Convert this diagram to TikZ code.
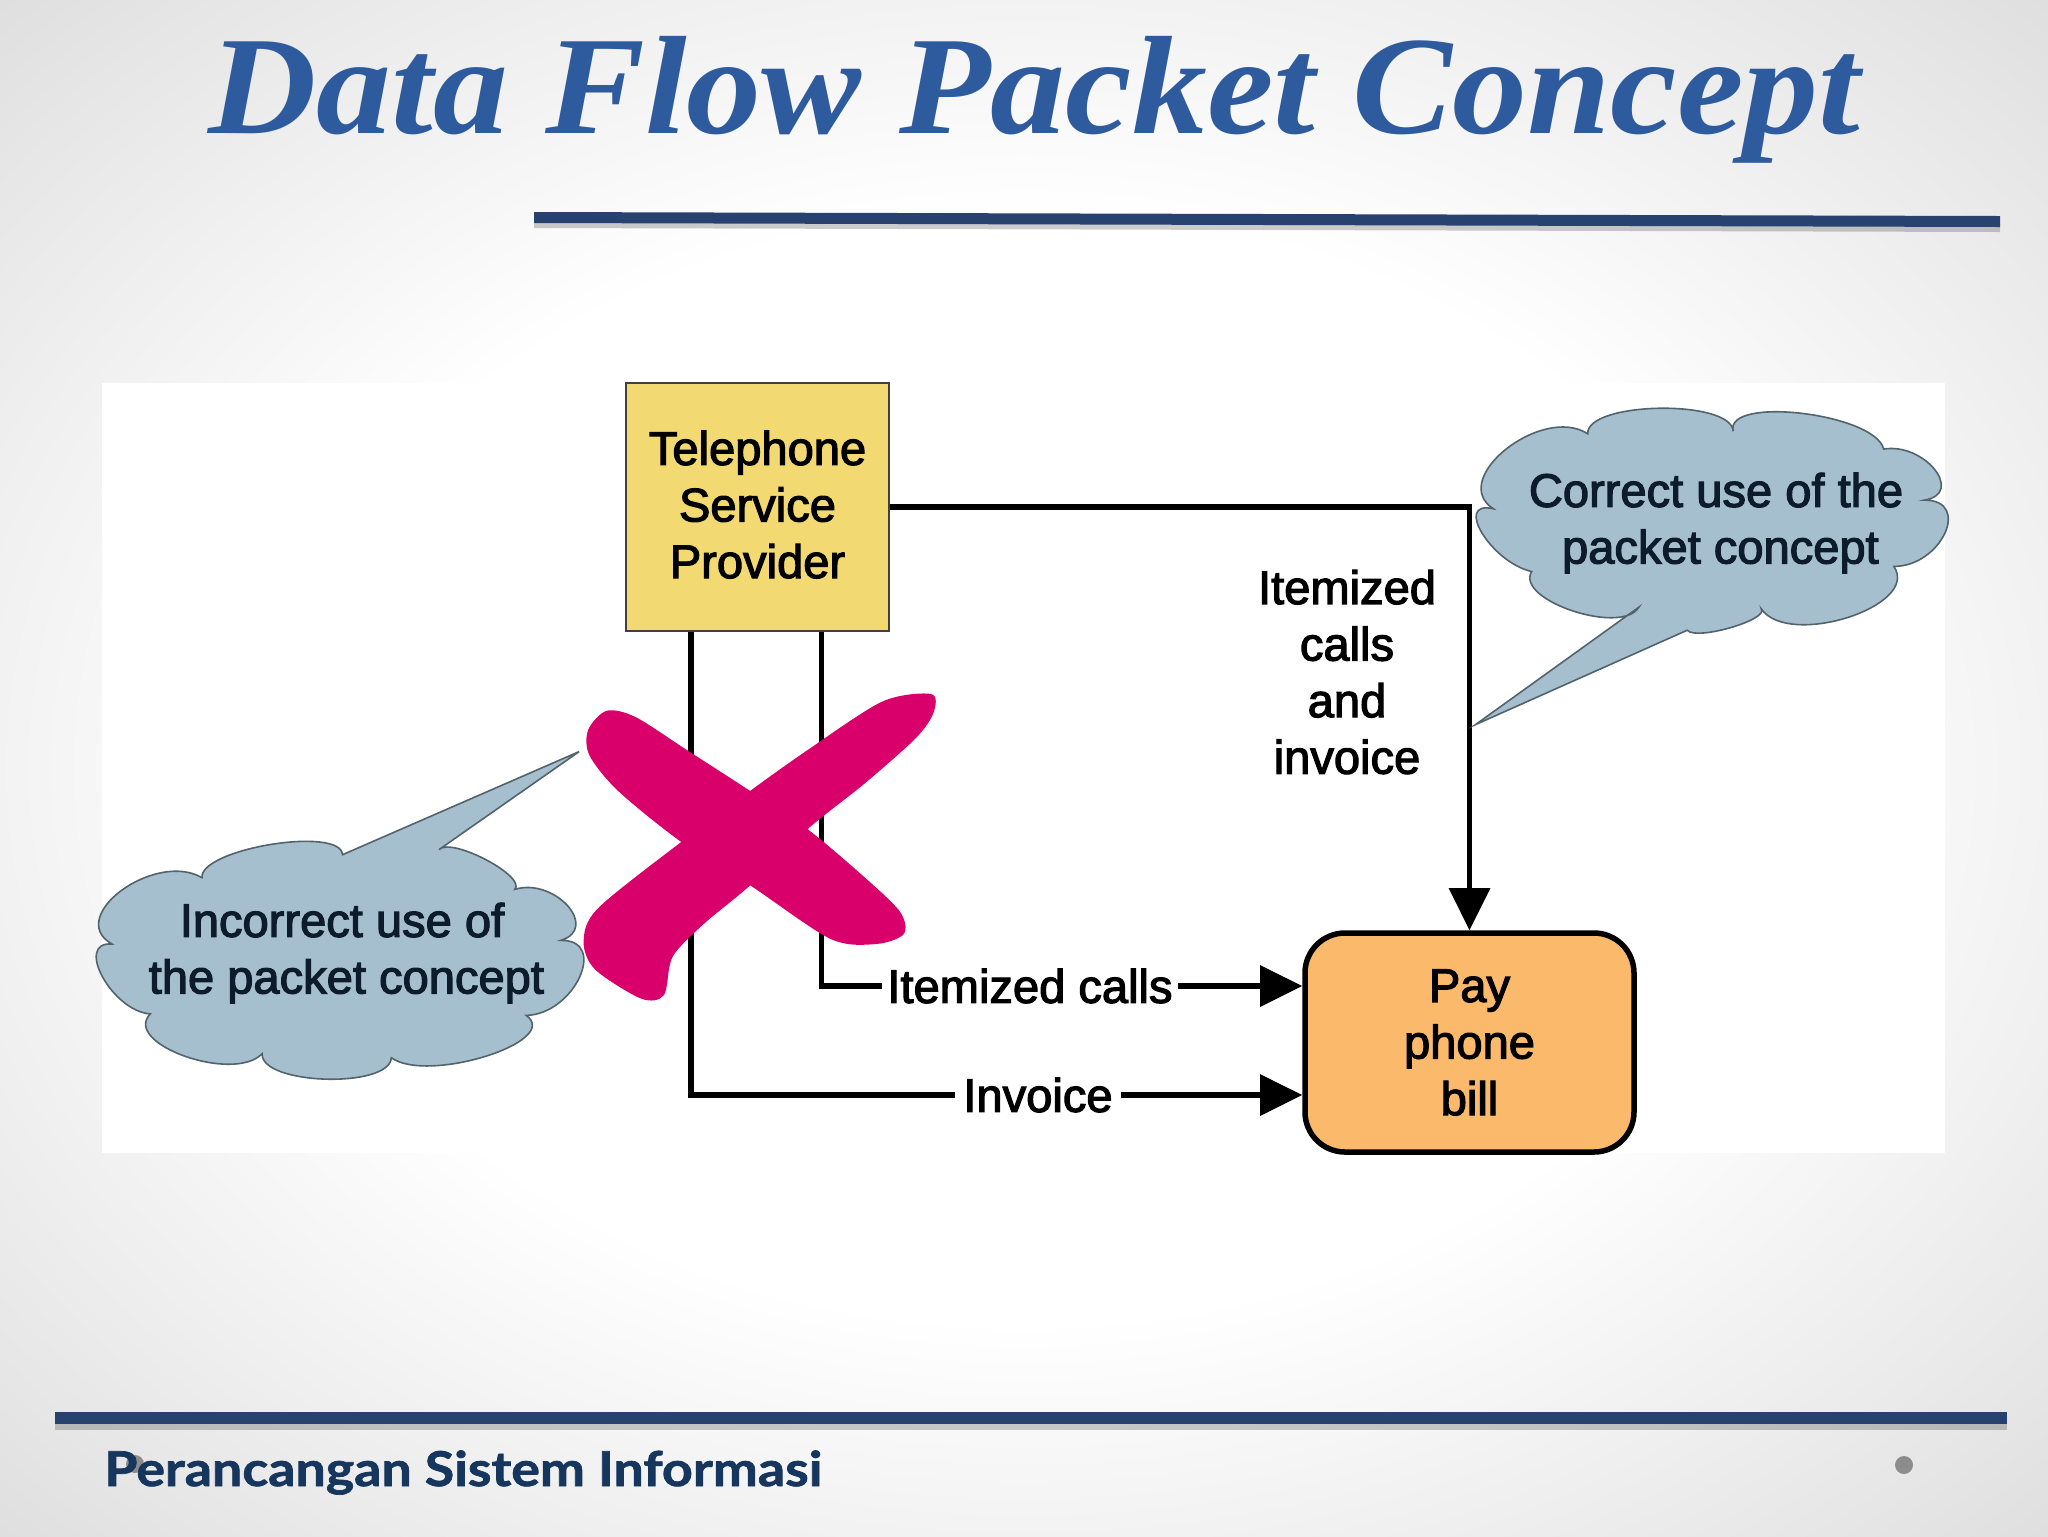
\documentclass[tikz,border=0pt]{standalone}
\usepackage{fontspec}
\usetikzlibrary{arrows.meta,calc}
\setmainfont{Liberation Sans}
\newfontfamily\diagf{Liberation Sans}[FakeBold=2.5]
\newfontfamily\titlef{Liberation Serif}[FakeStretch=1.07]
\newfontfamily\footf{Lato}[FakeStretch=1.12,FakeBold=1.5]
\definecolor{titleblue}{HTML}{2E5A9E}
\definecolor{rulenavy}{HTML}{27426F}
\definecolor{footnavy}{HTML}{17365D}
\definecolor{provider}{HTML}{F2D972}
\definecolor{payfill}{HTML}{FBB96C}
\definecolor{cloudfill}{HTML}{A6BFCF}
\definecolor{cloudedge}{HTML}{52636B}
\definecolor{cloudtext}{HTML}{0C1C2C}
\definecolor{cross}{HTML}{D9006C}
\def\ux{0.02cm}
\pgfdeclareradialshading{slidebg}{\pgfpoint{0bp}{0bp}}{rgb(0bp)=(1,1,1); rgb(18bp)=(1,1,1); rgb(32bp)=(0.90,0.90,0.90); rgb(50bp)=(0.76,0.76,0.76)}
\newcommand{\cloudbump}[3]{.. controls ($0.3333*(#1)+1.3333*(#2)-0.6667*(#3)$) and ($0.3333*(#3)+1.3333*(#2)-0.6667*(#1)$) .. (#3)}
\tikzset{
  difftext/.style={font=\diagf\fontsize{26.8pt}{32.2pt}\selectfont,align=center,text=black,inner sep=0pt},
  provider box/.style={draw=black!75,line width=2*\ux,fill=provider,minimum width=263*\ux,minimum height=248*\ux,difftext},
  pay box/.style={draw=black,line width=5.5*\ux,fill=payfill,rounded corners=40*\ux,minimum width=329*\ux,minimum height=219*\ux,difftext},
  wire/.style={draw=black,line width=5.5*\ux},
  arrowed/.style={wire,-{Triangle[length=24pt,width=23pt]}},
  flow label/.style={difftext,fill=white,outer sep=0pt},
  cloud/.style={draw=cloudedge,line width=1.6*\ux,fill=cloudfill},
  cloud label/.style={difftext,text=cloudtext},
  bar/.style={fill=rulenavy},
  barshadow/.style={fill=black,opacity=0.2}
}
\begin{document}
\begin{tikzpicture}[x=\ux,y=-\ux]
\useasboundingbox (0,0) rectangle (2048,1536);
\shade[shading=slidebg] (0,0) rectangle (2048,1536);
\fill[white] (102,383) rectangle (1945,1153);
% title + rules
\node[anchor=base west,inner sep=0pt,text=titleblue,font=\titlef\bfseries\itshape\fontsize{79.7pt}{90pt}\selectfont] (title) at (208,133) {Data Flow Packet Concept};
\path[barshadow] (534,219) -- (2000,223) -- (2000,232) -- (534,228) -- cycle;
\path[bar] (534,212) -- (2000,216) -- (2000,227) -- (534,223) -- cycle;
\path[barshadow] (55,1420) rectangle (2007,1430);
\path[bar] (55,1412) rectangle (2007,1424);
% footer
\fill[black!45] (135,1464) circle (9);
\fill[black!45] (1904,1465) circle (9);
\node[anchor=base west,inner sep=0pt,text=footnavy,font=\footf\bfseries\fontsize{27.3pt}{32pt}\selectfont] (foot) at (104,1486) {Perancangan Sistem Informasi};
% nodes
\node[provider box] (tsp) at (757.5,507) {Telephone\\Service\\Provider\rule[-3pt]{0pt}{0pt}};
\node[pay box] (pay) at (1469.5,1042.5) {Pay\\phone\\bill};
\node[flow label,inner xsep=5*\ux] (calls) at (1030,986) {Itemized calls};
\node[flow label,inner xsep=8*\ux] (inv) at (1038,1095) {Invoice};
\node[flow label] (both) at (1347,672) {Itemized\\calls\\and\\invoice};
% connectors
\draw[wire] ([xshift=-66.5*\ux]tsp.south) |- (inv.west);
\draw[arrowed] (inv.east) -- (pay.west |- inv.east);
\draw[wire] ([xshift=64*\ux]tsp.south) |- (calls.west);
\draw[arrowed] (calls.east) -- (pay.west |- calls.east);
\draw[arrowed] (tsp.east) -| (pay.north);
% cross
\begin{scope}[shift={(90,370)},xscale=0.574,yscale=0.5102]
\fill[cross] plot[smooth cycle,tension=0.5] coordinates {
 (868,705) (900,668) (950,680) (1040,745) (1150,825) (1250,900) (1340,985) (1410,1060) (1418,1105) (1370,1125) (1290,1115) (1150,1010) (1030,925) (920,825) (870,755)};
\fill[cross] plot[smooth cycle,tension=0.5] coordinates {
 (860,1120) (885,1055) (1030,925) (1150,825) (1250,745) (1380,650) (1465,635) (1470,670) (1440,720) (1350,810) (1250,900) (1150,1010) (1070,1085) (1015,1150) (1000,1225) (960,1232) (880,1175)};
\path[cloud] (608,940)
 \cloudbump{608,940}{690,960}{740,1018}
 \cloudbump{740,1018}{832,1050}{820,1118}
 \cloudbump{820,1118}{853,1190}{760,1265}
 \cloudbump{760,1265}{690,1345}{525,1348}
 \cloudbump{525,1348}{410,1390}{300,1340}
 \cloudbump{300,1340}{165,1345}{105,1262}
 \cloudbump{105,1262}{22,1190}{38,1125}
 \cloudbump{38,1125}{55,1020}{195,995}
 \cloudbump{195,995}{315,930}{440,950}
 -- (852,748) -- cycle;
\end{scope}
\begin{scope}[shift={(1200,370)},xscale=0.5102,yscale=0.5102]
\path[cloud] (860,465)
 \cloudbump{860,465}{730,472}{650,395}
 \cloudbump{650,395}{553,320}{575,272}
 \cloudbump{575,272}{600,155}{760,125}
 \cloudbump{760,125}{900,75}{1045,120}
 \cloudbump{1045,120}{1180,85}{1340,155}
 \cloudbump{1340,155}{1440,195}{1420,255}
 \cloudbump{1420,255}{1460,320}{1360,385}
 \cloudbump{1360,385}{1270,485}{1100,468}
 \cloudbump{1100,468}{1040,505}{955,510}
 -- (540,695) -- cycle;
\end{scope}
\node[cloud label] (bad) at (342,953) {Incorrect use of\\\hspace*{5pt}the packet concept};
\node[cloud label] (good) at (1716,523) {Correct use of the\\\hspace*{5pt}packet concept};
\end{tikzpicture}
\end{document}
